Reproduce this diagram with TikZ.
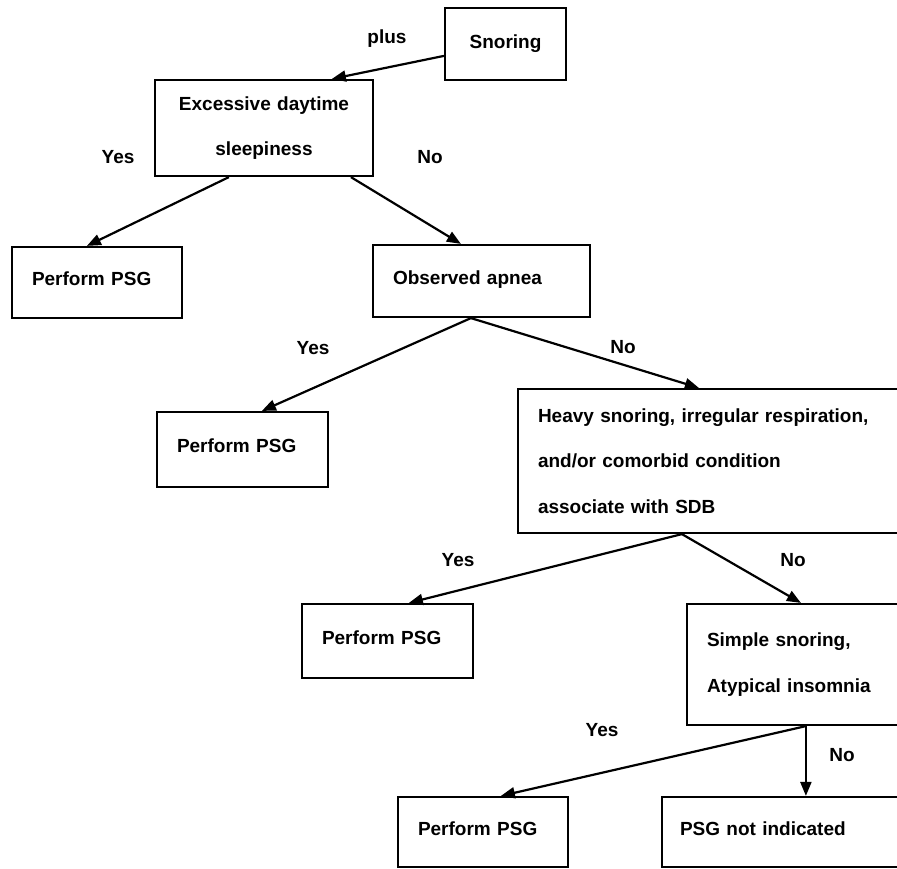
\documentclass[tikz,border=0pt]{standalone}
\usepackage{fontspec}
\setmainfont{Liberation Sans}
\usetikzlibrary{arrows.meta}
\tikzset{
  box/.style={draw, line width=2.2pt, inner xsep=20pt, inner ysep=0pt, align=left,
    font=\fontsize{19pt}{45.5pt}\selectfont\bfseries},
  onel/.style={text depth=7pt},
  lbl/.style={font=\fontsize{19pt}{23pt}\selectfont\bfseries, inner sep=0pt},
  arr/.style={line width=2.2pt, -{Triangle[length=14pt,width=11pt]}}
}
\begin{document}
\begin{tikzpicture}
\useasboundingbox (0,0) rectangle (897pt,-869pt);
\clip (0,0) rectangle (897pt,-869pt);
\fill[white] (0,0) rectangle (897pt,-869pt);

\node[box, align=center, inner xsep=0pt, text width=121pt, minimum height=72pt] (snoring) at (505.5pt,-44pt) {Snoring};
\node[box, align=center, inner xsep=0pt, text width=218pt, minimum height=96pt] (eds) at (264pt,-128pt) {Excessive daytime\\sleepiness};
\node[box, onel, text width=130pt, minimum height=71pt] (psg1) at (97pt,-282.5pt) {Perform PSG};
\node[box, onel, text width=177pt, minimum height=72pt] (oa) at (481.5pt,-281pt) {Observed apnea};
\node[box, onel, text width=131pt, minimum height=75pt] (psg2) at (242.5pt,-449.5pt) {Perform PSG};
\node[box, text width=347pt, minimum height=144pt] (heavy) at (711.5pt,-461pt) {Heavy snoring, irregular respiration,\\and/or comorbid condition\\associate with SDB};
\node[box, onel, text width=131pt, minimum height=74pt] (psg3) at (387.5pt,-641pt) {Perform PSG};
\node[box, text width=178pt, minimum height=121pt] (simple) at (796pt,-664.5pt) {Simple snoring,\\Atypical insomnia};
\node[box, onel, text width=130pt, minimum height=70pt] (psg4) at (483pt,-832pt) {Perform PSG};
\node[box, onel, inner xsep=18pt, text width=207pt, minimum height=70pt] (notind) at (783.5pt,-832pt) {PSG not indicated};

\draw[arr] ([yshift=-49pt]snoring.north west) -- ([xshift=178pt]eds.north west);
\draw[arr] ([xshift=75pt]eds.south west) -- ([xshift=76pt]psg1.north west);
\draw[arr] ([xshift=197pt]eds.south west) -- ([xshift=89pt]oa.north west);
\draw[arr] ([xshift=99pt]oa.south west) -- ([xshift=106pt]psg2.north west);
\draw[arr] ([xshift=99pt]oa.south west) -- ([xshift=182pt]heavy.north west);
\draw[arr] ([xshift=165pt]heavy.south west) -- ([xshift=108pt]psg3.north west);
\draw[arr] ([xshift=165pt]heavy.south west) -- ([xshift=115pt]simple.north west);
\draw[arr] ([xshift=120pt]simple.south west) -- ([xshift=104pt]psg4.north west);
\draw[arr] ([xshift=120pt]simple.south west) -- ([xshift=145pt]notind.north west);

\node[lbl] (l1) at (387pt,-39pt) {plus};
\node[lbl] (l2) at (118pt,-157pt) {Yes};
\node[lbl] (l3) at (430pt,-157pt) {No};
\node[lbl] (l4) at (313pt,-348pt) {Yes};
\node[lbl] (l5) at (623pt,-347pt) {No};
\node[lbl] (l6) at (458pt,-560pt) {Yes};
\node[lbl] (l7) at (793pt,-560pt) {No};
\node[lbl] (l8) at (602pt,-730pt) {Yes};
\node[lbl] (l9) at (842pt,-755pt) {No};
\end{tikzpicture}
\end{document}
